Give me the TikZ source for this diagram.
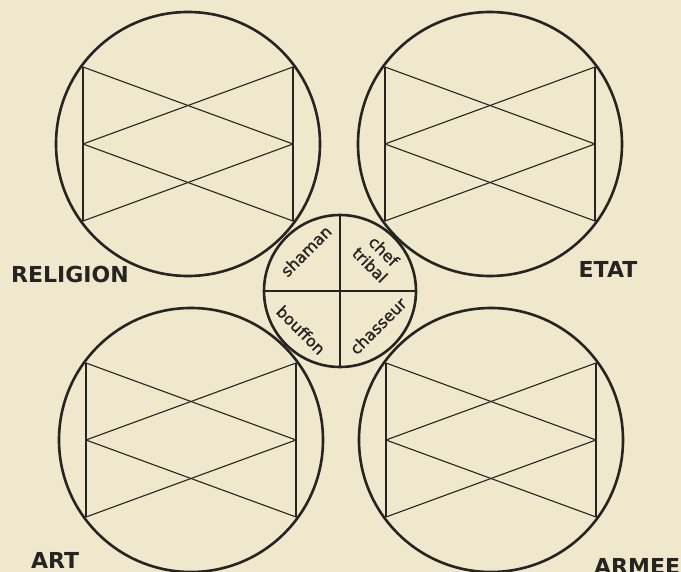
\documentclass[tikz,border=0pt]{standalone}
\usepackage{fontspec}
\setmainfont{DejaVu Sans}
\newfontfamily\rolefont[FakeBold=1.2]{DejaVu Sans}
\definecolor{paper}{RGB}{239,232,205}
\definecolor{ink}{RGB}{38,36,33}
\begin{document}
\begin{tikzpicture}[x=1pt,y=-1pt,
  bigcircle/.style={circle,draw=ink,line width=2.6pt,minimum size=264pt,inner sep=0pt},
  smallcircle/.style={circle,draw=ink,fill=paper,line width=2.6pt,minimum size=152pt,inner sep=0pt},
  thinline/.style={draw=ink,line width=1.1pt},
  biglabel/.style={font=\fontsize{22}{26}\selectfont\bfseries,text=ink,inner sep=0pt,anchor=base},
  rolelabel/.style={font=\rolefont\fontsize{16}{19.5}\selectfont,text=ink,inner sep=0pt,align=center}]
\fill[paper] (0,0) rectangle (681,572);
\useasboundingbox (0,0) rectangle (681,572);
\clip (0,0) rectangle (681,572);
% big circles
\foreach \n/\cx/\cy in {rel/188/144, etat/490/144, art/191/440, armee/491/440}{
  \node[bigcircle] (\n) at (\cx,\cy) {};
  \begin{scope}[shift={(\cx,\cy)}]
    \draw[thinline] (-105,-77) -- (-105,77);
    \draw[thinline] (105,-77) -- (105,77);
    \draw[thinline] (-105,-77) -- (105,0);
    \draw[thinline] (-105,0) -- (105,-77);
    \draw[thinline] (-105,0) -- (105,77);
    \draw[thinline] (-105,77) -- (105,0);
  \end{scope}
}
% central circle
\node[smallcircle] (ctr) at (340,291) {};
\draw[thinline] (ctr.north) -- (ctr.south);
\draw[thinline] (ctr.west) -- (ctr.east);
\node[rolelabel,rotate=45] (shaman) at (306,251) {shaman};
\node[rolelabel,rotate=-45] (chef) at (377,258) {chef\\tribal};
\node[rolelabel,rotate=-45] (bouffon) at (301,330) {bouffon};
\node[rolelabel,rotate=45] (chasseur) at (378,326) {chasseur};
% labels
\node[biglabel] (lrel) at (70,283) {RELIGION};
\node[biglabel] (letat) at (608,278) {ETAT};
\node[biglabel] (lart) at (55,568) {ART};
\node[biglabel,anchor=base west] (larmee) at (594,574) {ARMEE};
\end{tikzpicture}
\end{document}
